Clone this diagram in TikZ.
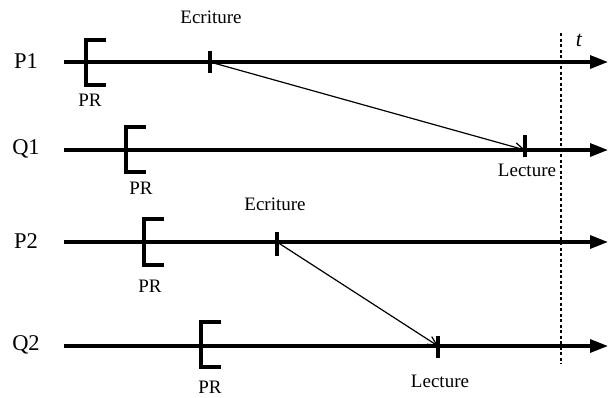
\documentclass[tikz,border=0pt]{standalone}
\usepackage{fontspec}
\setmainfont{Liberation Serif}
\usetikzlibrary{arrows.meta}
\begin{document}
\begin{tikzpicture}[x=1pt,y=-1pt,
  axis/.style={line width=3.2pt,-{Triangle[length=18pt,width=13pt]}},
  brk/.style={line width=3.2pt},
  tck/.style={line width=3.2pt},
  msg/.style={line width=1.2pt,-{Straight Barb[length=9pt,width=9pt]}},
  proc/.style={font=\fontsize{22.5}{24}\selectfont},
  lbl/.style={font=\fontsize{19}{21}\selectfont,inner sep=0pt}]
\useasboundingbox (0,0) rectangle (608,397);
% process labels
\node[proc] (p1) at (26,61) {P1};
\node[proc] (q1) at (26,149) {Q1};
\node[proc] (p2) at (26,241) {P2};
\node[proc] (q2) at (26,345) {Q2};
% start coordinates and ends
\coordinate (p1s) at (64,62);  \coordinate (p1e) at (608,62);
\coordinate (q1s) at (64,150); \coordinate (q1e) at (608,150);
\coordinate (p2s) at (64,242); \coordinate (p2e) at (608,242);
\coordinate (q2s) at (64,346); \coordinate (q2e) at (608,346);
\draw[axis] (p1s) -- (p1e);
\draw[axis] (q1s) -- (q1e);
\draw[axis] (p2s) -- (p2e);
\draw[axis] (q2s) -- (q2e);
% brackets
\draw[brk] (106,40) -- (86,40) -- (86,85) -- (106,85);
\draw[brk] (146,127) -- (126,127) -- (126,172) -- (146,172);
\draw[brk] (164,219) -- (144,219) -- (144,265) -- (164,265);
\draw[brk] (221,322) -- (201,322) -- (201,367) -- (221,367);
\node[lbl] (pr1) at (90,100) {PR};
\node[lbl] (pr2) at (141,188) {PR};
\node[lbl] (pr3) at (150,286) {PR};
\node[lbl] (pr4) at (210,387) {PR};
% write/read ticks
\coordinate (w1) at (210,62);
\coordinate (r1) at (525,150);
\coordinate (w2) at (277,242);
\coordinate (r2) at (438,346);
\draw[tck] (210,51) -- (210,73);
\draw[tck] (525,135) -- (525,157);
\draw[tck] (277,232) -- (277,256);
\draw[tck] (438,336) -- (438,358);
\node[lbl] (e1) at (211,17) {Ecriture};
\node[lbl] (l1) at (527,170) {Lecture};
\node[lbl] (e2) at (275,204) {Ecriture};
\node[lbl] (l2) at (440,381) {Lecture};
\draw[msg] (w1) -- (r1);
\draw[msg] (w2) -- (r2);
% time cut
\coordinate (ct) at (561,33);
\coordinate (cb) at (561,364);
\draw[line width=1.1pt,dash pattern=on 3pt off 2.5pt] (ct) -- (cb);
\node[font=\fontsize{22}{24}\selectfont\itshape] (t) at (579,40) {t};
\end{tikzpicture}
\end{document}
